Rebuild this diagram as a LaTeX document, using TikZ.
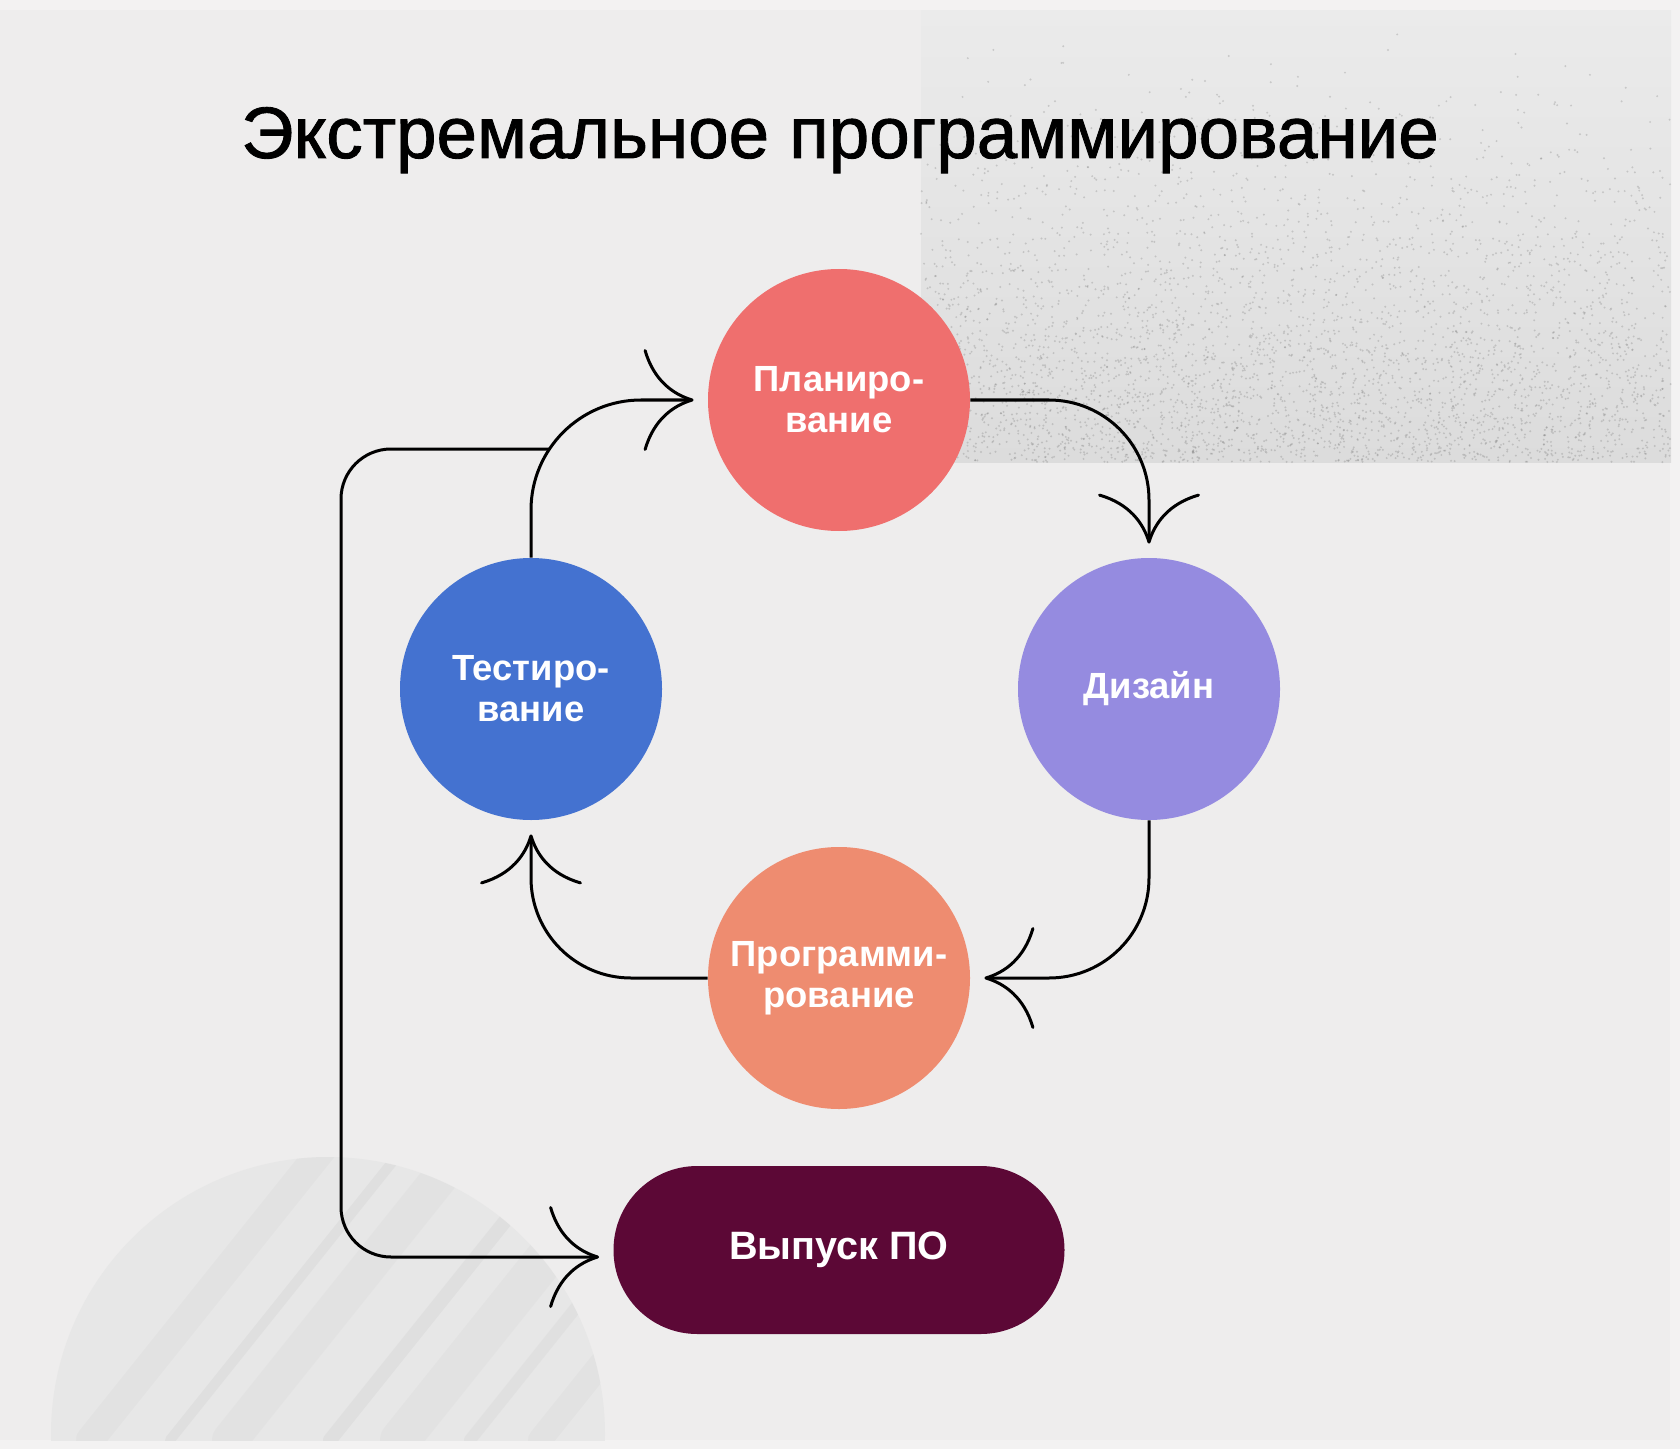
\documentclass[tikz,border=0pt]{standalone}
\usepackage{fontspec}
\setmainfont{Liberation Sans}
\newfontfamily\titlefont[FakeBold=1.2]{Liberation Sans}
\usetikzlibrary{arrows.meta}
\definecolor{bg}{HTML}{EEEDED}
\definecolor{frame}{HTML}{F3F2F2}
\definecolor{plan}{HTML}{EF6F6E}
\definecolor{design}{HTML}{958BE0}
\definecolor{test}{HTML}{4472D0}
\definecolor{prog}{HTML}{EE8C70}
\definecolor{rel}{HTML}{5C0836}
\definecolor{texdark}{HTML}{DCDCDC}
\definecolor{texlight}{HTML}{EBEBEB}
\tikzset{
  stage/.style={circle, minimum size=131pt, inner sep=0pt, align=center,
    text=white, font=\bfseries\fontsize{18.2pt}{20.5pt}\selectfont},
  relbox/.style={rectangle, rounded corners=41.9pt, minimum width=225.5pt,
    minimum height=84pt, fill=rel, text=white, font=\bfseries\fontsize{19.8pt}{22pt}\selectfont},
  conn/.style={line width=1.5pt, draw=black,
    -{Computer Modern Rightarrow[length=25pt, width=51pt, line width=1.5pt]},
    shorten >=7pt},
  speck/.style={fill=black!60, opacity=0.25}
}
\begin{document}
\begin{tikzpicture}[x=0.5pt, y=-0.5pt]
\useasboundingbox (0,0) rectangle (1680,1449);
\fill[frame] (0,0) rectangle (1680,1449);
\fill[bg] (0,10) rectangle (1670,1440);
% textured panel top right
\shade[top color=texlight, bottom color=texdark] (921,11) rectangle (1671,462);
\pgfmathsetseed{7}
\foreach \i in {1,...,4000}{
  \pgfmathsetmacro{\px}{921+750*rnd}
  \pgfmathsetmacro{\py}{11+451*(rnd^0.35)}
  \fill[speck] (\px,\py) circle (0.55pt);
}
% faint moon bottom left
\begin{scope}
  \clip (0,10) rectangle (1670,1440);
  \fill[black!10, opacity=0.75] (328,1434) circle (138.5pt);
  \clip (328,1434) circle (138.5pt);
  \foreach \a/\w/\o in {90/14/0.12, 170/5/0.18, 230/18/0.1, 330/7/0.18, 400/20/0.1, 470/6/0.16, 540/12/0.12}{
    \draw[black!25, line width=\w pt, opacity=\o, line cap=round] (\a,1440) -- ++(240,-300);
  }
\end{scope}

\node[font=\titlefont\fontsize{36.4pt}{44pt}\selectfont, anchor=base] (title) at (840,158) {Экстремальное программирование};

\node[stage, fill=plan] (P) at (839,400) {Планиро-\\вание};
\node[stage, fill=design] (D) at (1149,689) {Дизайн};
\node[stage, fill=test] (T) at (531,689) {Тестиро-\\вание};
\node[stage, fill=prog] (G) at (839,978) {Программи-\\рование};
\node[relbox] (R) at (839,1250) {Выпуск ПО};

\draw[conn, rounded corners=50pt] (P.east) -| (D.north);
\draw[conn, rounded corners=50pt] (D.south) |- (G.east);
\draw[conn, rounded corners=50pt] (G.west) -| (T.south);
\draw[conn, rounded corners=55pt] (T.north) |- (P.west);

\coordinate (br) at (549.5,449);
\coordinate (lp) at (341,449);
\draw[conn, rounded corners=25pt] (br) -- (lp) |- ([yshift=-3.5pt]R.west);
\end{tikzpicture}
\end{document}
